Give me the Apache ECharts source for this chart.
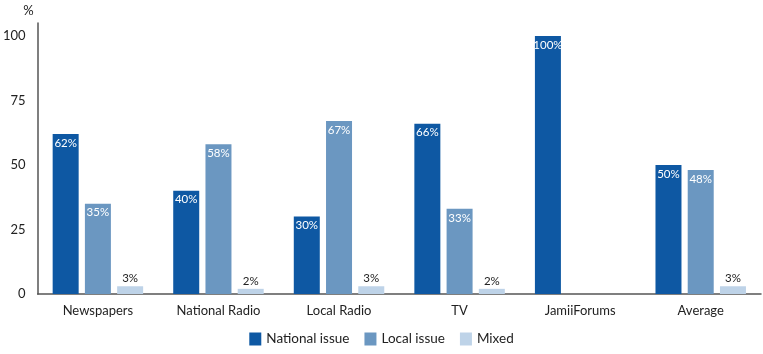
<!DOCTYPE html>
<html><head><meta charset="utf-8">
<script src="https://cdn.jsdelivr.net/npm/echarts@6/dist/echarts.min.js"></script>
<style>html,body{margin:0;padding:0;background:#fff}#c{width:763px;height:354px}</style>
</head><body><div id="c"></div>
<script>
const categories = ['Newspapers', 'National Radio', 'Local Radio', 'TV', 'JamiiForums', 'Average'];
const nationalIssue = [62, 40, 30, 66, 100, 50];
const localIssue = [35, 58, 67, 33, 0, 48];
const mixed = [3, 2, 3, 2, 0, 3];
const yTicks = [0, 25, 50, 75, 100];

const font = 'Lato, "Open Sans", sans-serif';
const fmt = p => p.value ? p.value + '%' : '';
const chart = echarts.init(document.getElementById('c'));
chart.setOption({
  animation: false,
  textStyle: { fontFamily: font },
  grid: { left: 37, right: 2, top: 23, bottom: 60, containLabel: false },
  legend: {
    bottom: 3, left: 'center', itemWidth: 12, itemHeight: 13, itemGap: 15,
    icon: 'rect',
    textStyle: { fontFamily: font, fontSize: 13.5, color: '#222' },
    data: ['National issue', 'Local issue', 'Mixed']
  },
  xAxis: {
    type: 'category', data: categories,
    axisLine: { lineStyle: { color: '#555', width: 1.5 } },
    axisTick: { show: false },
    axisLabel: { fontFamily: font, fontSize: 13, color: '#222', margin: 10 }
  },
  yAxis: {
    type: 'value', min: 0, max: 105, interval: 25,
    name: '%', nameLocation: 'end', nameGap: 6,
    nameTextStyle: { fontFamily: font, fontSize: 13, color: '#222', align: 'right', padding: [0, 4, 0, 0] },
    axisLine: { show: true, lineStyle: { color: '#555', width: 1.5 } },
    axisTick: { show: false },
    splitLine: { show: false },
    axisLabel: {
      fontFamily: font, fontSize: 13, color: '#222', margin: 12,
      formatter: v => yTicks.includes(v) ? String(v) : ''
    }
  },
  series: [
    { name: 'National issue', type: 'bar', data: nationalIssue, barWidth: 26, barGap: '24%',
      itemStyle: { color: '#0E58A3' },
      label: { show: true, position: 'insideTop', distance: 3, color: '#fff', fontSize: 11.5, fontFamily: font, formatter: fmt } },
    { name: 'Local issue', type: 'bar', data: localIssue, barWidth: 26,
      itemStyle: { color: '#6B97C1' },
      label: { show: true, position: 'insideTop', distance: 3, color: '#fff', fontSize: 11.5, fontFamily: font, formatter: fmt } },
    { name: 'Mixed', type: 'bar', data: mixed, barWidth: 26,
      itemStyle: { color: '#BED3E8' },
      label: { show: true, position: 'top', distance: 2, color: '#222', fontSize: 11.5, fontFamily: font, formatter: fmt } }
  ]
});
</script></body></html>
